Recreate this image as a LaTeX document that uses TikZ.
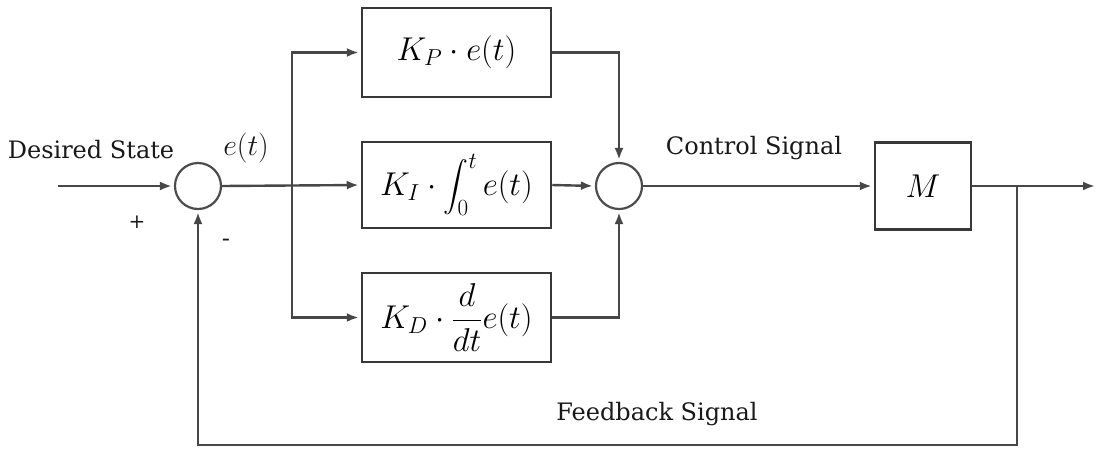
\RequirePackage{fix-cm}
\documentclass[tikz,border=0pt]{standalone}
\usepackage{amsmath}
\usepackage{fontspec}
\setmainfont{DejaVu Serif}
\usetikzlibrary{arrows.meta}
\begin{document}
\begin{tikzpicture}[x=1pt,y=-1pt,
  line width=2pt,
  wire/.style={draw=black!72, line width=2.4pt},
  arr/.style={wire, -{Latex[length=12pt,width=9pt]}, shorten >=2pt},
  blk/.style={draw=black!78, line width=2.5pt, fill=white, inner sep=0pt, font=\fontsize{33}{38}\selectfont},
  sumc/.style={circle, draw=black!70, line width=2.2pt, minimum size=46pt, inner sep=0pt},
  lbl/.style={font=\fontsize{24}{28}\selectfont, inner sep=0pt, text=black!90}]
\useasboundingbox (0,0) rectangle (1097,448);

\node[sumc] (s1) at (198,186) {};
\node[sumc] (s2) at (619,186) {};
\node[blk, minimum width=189pt, minimum height=89pt] (kp) at (456.5,52.5) {$K_P\cdot e(t)$};
\node[blk, minimum width=189pt, minimum height=86pt] (ki) at (456.5,185) {$K_I\cdot \displaystyle\int_0^t e(t)$};
\node[blk, minimum width=189pt, minimum height=89pt] (kd) at (456.5,317.5) {$K_D\cdot \dfrac{d}{dt}e(t)$};
\node[blk, minimum width=96pt, minimum height=87pt] (m) at (923,186) {$M$};

\coordinate (in) at (58,186);
\coordinate (out) at (1097,186);
\coordinate (br) at (292,186);
\coordinate (tap) at (1017,186);
\coordinate (fbr) at (1017,445);

\node[lbl] (ds) at (91,150) {Desired State};
\node[lbl, font=\fontsize{30}{34}\selectfont] (et) at (246,148) {$e(t)$};
\node[lbl, font=\fontsize{20}{24}\selectfont] (plus) at (137,222) {+};
\node[lbl] (minus) at (226,243) {-};
\node[lbl] (cs) at (754,148) {Control Signal};
\node[lbl] (fs) at (657,414) {Feedback Signal};

\draw[arr] (in) -- (s1.west);
\draw[arr] (s1.east) -- (ki.west);
\draw[arr] (br) |- (kp.west);
\draw[arr] (br) |- (kd.west);
\draw[arr] (kp.east) -| (s2.north);
\draw[arr] (ki.east) -- (s2.west);
\draw[arr] (kd.east) -| (s2.south);
\draw[arr] (s2.east) -- (m.west);
\draw[arr] (m.east) -- (out);
\draw[arr] (tap) -- (fbr) -| (s1.south);
\end{tikzpicture}
\end{document}
